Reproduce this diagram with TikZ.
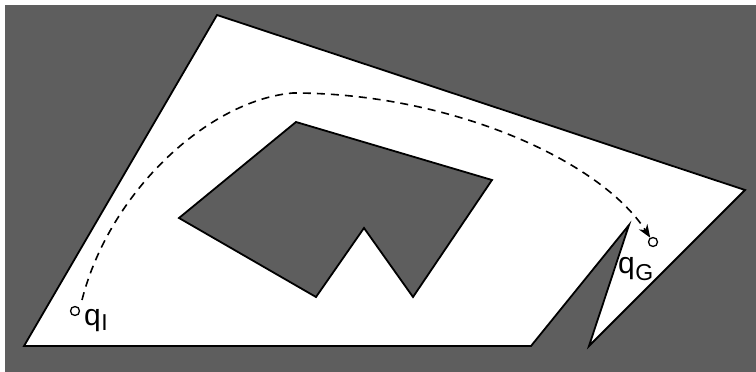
\documentclass[tikz,border=0pt]{standalone}
\usepackage{fontspec}
\setmainfont{Liberation Sans}
\usetikzlibrary{arrows.meta}
\definecolor{obst}{HTML}{5E5E5E}
\tikzset{
  wall/.style={draw=black, line width=1.8pt, line join=miter},
  pt/.style={circle, draw=black, fill=white, line width=1.3pt, inner sep=0pt, minimum size=9pt},
  lab/.style={inner sep=0pt, font=\fontsize{30}{32}\selectfont},
  path/.style={draw=black, line width=1.6pt, dash pattern=on 8pt off 6pt, -{Stealth[length=13pt,width=10pt,inset=4pt]}}
}
\begin{document}
\begin{tikzpicture}[x=1pt,y=-1pt]
\useasboundingbox (0,0) rectangle (756,372);
\fill[white] (0,0) rectangle (756,372);
\fill[obst] (5,5) rectangle (756,372);
% free space
\filldraw[wall, fill=white] (217,15) -- (745,190) -- (589,346) -- (629,225) -- (531,346) -- (24,346) -- cycle;
% obstacle
\filldraw[wall, fill=obst] (296,122) -- (492,180) -- (413,297) -- (364,228) -- (316,297) -- (179,218) -- cycle;
% start and goal
\node[pt] (qI) at (75,311) {};
\node[pt] (qG) at (653,242) {};
\node[lab, anchor=base west] (lI) at (84,325) {q\kern0.5pt\raisebox{-5pt}{\fontsize{23}{23}\selectfont I}};
\node[lab, anchor=base west] (lG) at (618,273) {q\kern0.5pt\raisebox{-7pt}{\fontsize{23}{23}\selectfont G}};
\coordinate (s) at (82,300);
\coordinate (top) at (293,93);
\draw[path] (s) .. controls (110,190) and (210,100) .. (top) .. controls (450,93) and (600,160) .. (qG);
\end{tikzpicture}
\end{document}
